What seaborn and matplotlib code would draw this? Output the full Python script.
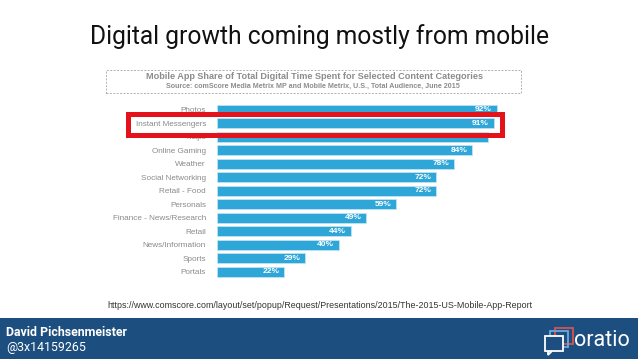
import matplotlib
matplotlib.use("Agg")
import matplotlib.pyplot as plt
import matplotlib.patches as mpatches
import pandas as pd
import seaborn as sns

categories = ["Photos", "Instant Messengers", "Maps", "Online Gaming", "Weather",
              "Social Networking", "Retail - Food", "Personals",
              "Finance - News/Research", "Retail", "News/Information", "Sports", "Portals"]
shares = [92, 91, 89, 84, 78, 72, 72, 59, 49, 44, 40, 29, 22]

df = pd.DataFrame({"Category": categories, "Share": shares})

W, H = 638, 359
fig = plt.figure(figsize=(W / 100, H / 100), dpi=100)
fig.patch.set_facecolor("white")


def fx(x):
    return x / W


def fy(y):
    return 1 - y / H


ax = fig.add_axes([fx(217), fy(278.5), 304 / W, 175.5 / H])
sns.barplot(data=df, x="Share", y="Category", ax=ax, color="#2fa6d8",
            saturation=1, width=0.74, edgecolor="#bfe3f3", linewidth=0.6)
ax.set_xlim(0, 100)
ax.set_xlabel("")
ax.set_ylabel("")
ax.set_xticks([])
for s in ax.spines.values():
    s.set_visible(False)
ax.tick_params(axis="y", length=0, pad=8, labelsize=5.9, labelcolor="#8a8a8a")
for lab in ax.get_yticklabels():
    lab.set_fontfamily("Liberation Sans")
for i, v in enumerate(shares):
    ax.text(v - 1.5, i, f"{v}%", ha="right", va="center", color="white",
            fontsize=6, fontweight="bold", family="Liberation Sans")

# title
fig.text(0.5, fy(37), "Digital growth coming mostly from mobile", ha="center",
         va="center", fontsize=17.7, family="Roboto", color="#111111")

# inner chart header box
fig.patches.append(mpatches.Rectangle((fx(106), fy(93)), fx(521) - fx(106), fy(70) - fy(93),
                                      transform=fig.transFigure, fill=False,
                                      edgecolor="#b0b0b0", linestyle=(0, (2, 1.5)), linewidth=0.7))
fig.text(fx(314), fy(76.5), "Mobile App Share of Total Digital Time Spent for Selected Content Categories",
         ha="center", va="center", fontsize=6.6, fontweight="bold", color="#8c8c8c",
         family="Liberation Sans")
fig.text(fx(313), fy(86), "Source: comScore Media Metrix MP and Mobile Metrix, U.S., Total Audience, June 2015",
         ha="center", va="center", fontsize=5.1, fontweight="bold", color="#8c8c8c",
         family="Liberation Sans")

# red highlight
fig.patches.append(mpatches.Rectangle((fx(128), fy(134.5)), fx(502) - fx(128), fy(114) - fy(134.5),
                                      transform=fig.transFigure, fill=False,
                                      edgecolor="#e3121b", linewidth=3.6))

# source url
fig.text(fx(320), fy(305), "https://www.comscore.com/layout/set/popup/Request/Presentations/2015/The-2015-US-Mobile-App-Report",
         ha="center", va="center", fontsize=6.4, color="#333333", family="Liberation Sans")

# footer band
fig.patches.append(mpatches.Rectangle((0, 0), 1, fy(317.5), transform=fig.transFigure,
                                      facecolor="#1c4f80", edgecolor="none"))
fig.text(fx(6), fy(332), "David Pichsenmeister", ha="left", va="center", fontsize=8.9,
         fontweight="bold", color="white", family="Roboto")
fig.text(fx(6), fy(347.5), "@3x14159265", ha="left", va="center", fontsize=8.9,
         color="white", family="Roboto")

# logo
fig.patches.append(mpatches.Rectangle((fx(555), fy(344)), 18 / W, 16 / H, transform=fig.transFigure,
                                      fill=False, edgecolor="#d9534f", linewidth=1.3))
fig.patches.append(mpatches.Rectangle((fx(550), fy(347)), 18 / W, 16 / H, transform=fig.transFigure,
                                      fill=False, edgecolor="#6fa8dc", linewidth=1.3))
fig.patches.append(mpatches.Rectangle((fx(545), fy(351)), 18 / W, 15 / H, transform=fig.transFigure,
                                      facecolor="#1c4f80", edgecolor="white", linewidth=1.3))
fig.patches.append(mpatches.Polygon([(fx(548), fy(351)), (fx(548), fy(355)), (fx(552), fy(351))],
                                    closed=False, transform=fig.transFigure, fill=False,
                                    edgecolor="white", linewidth=1.3))
fig.text(fx(574), fy(341), "oratio", ha="left", va="center", fontsize=15.5,
         color="white", family="Roboto")

fig.savefig("out.png", dpi=100)
